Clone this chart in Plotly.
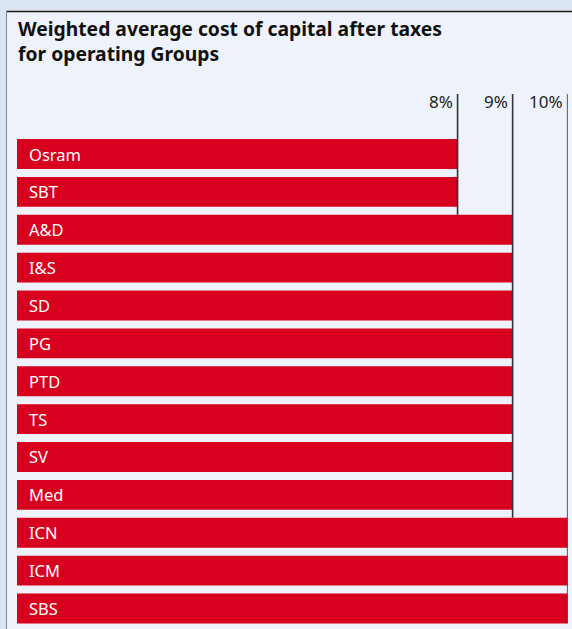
import plotly.graph_objects as go

# ---- data ----
groups = ["Osram", "SBT", "A&D", "I&S", "SD", "PG", "PTD", "TS", "SV", "Med", "ICN", "ICM", "SBS"]
wacc = [8, 8, 9, 9, 9, 9, 9, 9, 9, 9, 10, 10, 10]
tick_values = [8, 9, 10]
tick_labels = ["8%", "9%", "10%"]
title_text = "Weighted average cost of capital after taxes<br>for operating Groups"

# ---- layout geometry (pixels) ----
W, H = 572, 629
RED = "#d7001f"
PANEL = "#eef2fa"
OUTER = "#dce6f2"
x_left_px, x_right_px = 17, 567.7          # 0% and 10% positions
y_top_px, y_bot_px = 135.1, 627.4           # category band extent
bargap = 0.21
n = len(groups)
pitch = (y_bot_px - y_top_px) / n
half = pitch * (1 - bargap) / 2


def py(px):
    return 1 - px / H


def px_x(px):
    return px / W


fig = go.Figure()
fig.add_trace(go.Bar(
    x=wacc, y=groups, orientation="h",
    marker=dict(color=RED, line=dict(width=0)),
    hoverinfo="skip",
))

shapes = [
    # panel
    dict(type="rect", xref="paper", yref="paper", x0=px_x(6), x1=1, y0=0, y1=py(11),
         fillcolor=PANEL, line=dict(width=0), layer="below"),
    dict(type="line", xref="paper", yref="paper", x0=px_x(6), x1=1, y0=py(11.5), y1=py(11.5),
         line=dict(color="#1c1c1c", width=1.5)),
    dict(type="line", xref="paper", yref="paper", x0=px_x(6.5), x1=px_x(6.5), y0=0, y1=py(11),
         line=dict(color="#7d8590", width=1)),
]

# vertical reference lines
for t in tick_values:
    idx = max(i for i, v in enumerate(wacc) if v <= t)
    if idx + 1 < n:
        bottom = y_top_px + (idx + 1.5) * pitch - half
    else:
        bottom = y_top_px + (idx + 0.5) * pitch + half
    shapes.append(dict(type="line", xref="x", yref="paper", x0=t, x1=t,
                       y0=py(94), y1=py(bottom),
                       line=dict(color="#333333", width=1.6)))

annotations = [
    dict(text=f"<b>{title_text}</b>", xref="paper", yref="paper",
         x=px_x(16), y=py(41.5),
         xanchor="left", yanchor="middle", align="left", showarrow=False,
         font=dict(family="Noto Sans", size=19.3, color="#111111")),
]
for t, lab in zip(tick_values, tick_labels):
    annotations.append(dict(text=lab, xref="x", yref="paper", x=t, y=py(101.5),
                            xanchor="right", yanchor="middle", xshift=-3, showarrow=False,
                            font=dict(family="Noto Sans", size=17, color="#222222")))
for g in groups:
    annotations.append(dict(text=g, xref="x", yref="y", x=0, y=g, xanchor="left",
                            yanchor="middle", xshift=10, showarrow=False,
                            font=dict(family="Noto Sans", size=16.5, color="white")))

fig.update_layout(
    width=W, height=H,
    margin=dict(l=0, r=0, t=0, b=0),
    paper_bgcolor=OUTER,
    plot_bgcolor="rgba(0,0,0,0)",
    bargap=bargap,
    showlegend=False,
    xaxis=dict(range=[0, 10], domain=[px_x(x_left_px), px_x(x_right_px)], visible=False,
               fixedrange=True),
    yaxis=dict(categoryorder="array", categoryarray=groups, range=[n - 0.5, -0.5],
               domain=[py(y_bot_px), py(y_top_px)], visible=False, fixedrange=True),
    shapes=shapes,
    annotations=annotations,
)

fig.write_html("out.html")
